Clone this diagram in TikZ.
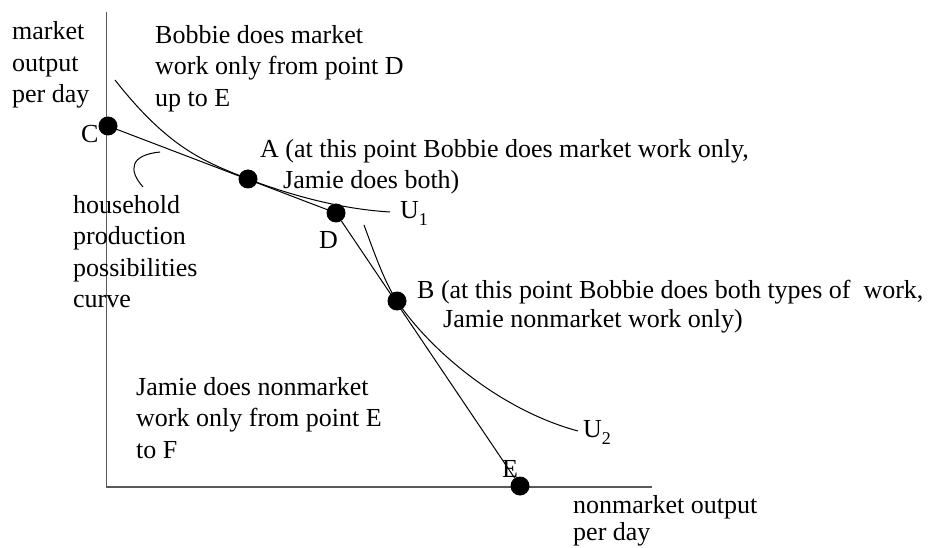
\documentclass[tikz,border=0pt]{standalone}
\usepackage{fontspec}
\setmainfont{Liberation Serif}
\newcommand{\bigtext}{\fontsize{26}{31.5}\selectfont}
\newcommand{\sub}[1]{\raisebox{-7pt}{\fontsize{18}{18}\selectfont #1}}
\begin{document}
\begin{tikzpicture}[x=1pt,y=-1pt,
    dot/.style={circle,fill=black,inner sep=0pt,minimum size=19pt},
    lbl/.style={inner sep=0pt,anchor=base west,font=\bigtext},
    blk/.style={inner sep=0pt,anchor=north west,align=left,font=\bigtext},
    curveline/.style={line width=1pt},
    axisline/.style={line width=1.5pt,color=black!65}]
  \useasboundingbox (0,0) rectangle (932,548);
  % axes
  \coordinate (top) at (106.5,12);
  \coordinate (O) at (106.5,487);
  \coordinate (right) at (652,487);
  \draw[axisline] (top) -- (O) -- (right);
  % points on the frontier
  \node[dot] (C) at (108,126) {};
  \node[dot] (A) at (248,179) {};
  \node[dot] (D) at (336,213) {};
  \node[dot] (B) at (397,301) {};
  \node[dot] (E) at (520,486) {};
  \draw[curveline] (C) -- (D) -- (E);
  % indifference curves
  \coordinate (u1s) at (115,80);
  \coordinate (u1e) at (390,212);
  \draw[curveline] (u1s) .. controls (170,150) and (206,162) .. (A.center)
    .. controls (290,195) and (340,209) .. (u1e);
  \coordinate (u2s) at (364,225);
  \coordinate (u2e) at (578,431);
  \draw[curveline] (u2s) .. controls (375,255) and (385,283) .. (B.center)
    .. controls (430,350) and (500,410) .. (u2e);
  % pointer to the frontier
  \coordinate (hp1) at (160,152);
  \coordinate (hp2) at (143,187);
  \draw[curveline] (hp1) .. controls (130,155) and (128,170) .. (hp2);
  % labels
  \node[blk] (ylab) at (12,21.5) {market\\output\\per day};
  \node[blk] (xlab) at (573,495.5) {nonmarket output\\[-4.5pt]per day};
  \node[blk] (bobbie) at (155,25.2) {Bobbie does market\\work only from point D\\up to E};
  \node[blk] (hpc) at (73,195.2) {household\\production\\possibilities\\curve};
  \node[blk] (jamie) at (136,377.2) {Jamie does nonmarket\\work only from point E\\to F};
  \node[blk] (Atext) at (260,139.2) {A (at this point Bobbie does market work only,\\\hspace*{23pt}Jamie does both)};
  \node[blk] (Btext) at (417,280.2) {B (at this point Bobbie does both types of~ work,\\[-2.5pt]\hspace*{26pt}Jamie nonmarket work only)};
  \node[lbl] (Clab) at (81,143) {C};
  \node[lbl] (Dlab) at (319,248) {D};
  \node[lbl] (Elab) at (502,477) {E};
  \node[lbl] (U1) at (400,219) {U\sub{1}};
  \node[lbl] (U2) at (583,437) {U\sub{2}};
\end{tikzpicture}
\end{document}
